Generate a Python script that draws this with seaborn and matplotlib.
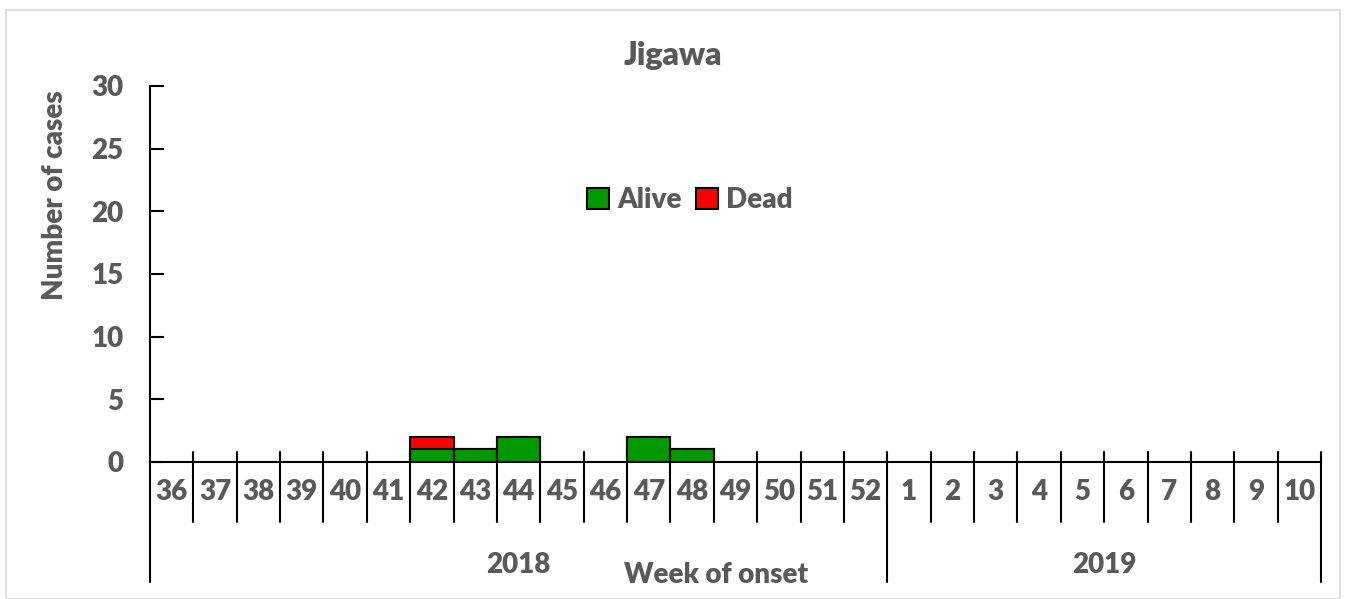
import numpy as np
import pandas as pd
import matplotlib
matplotlib.use('Agg')
import matplotlib.pyplot as plt
import seaborn as sns
from matplotlib.patches import Patch, Rectangle
from matplotlib.lines import Line2D

# data
weeks = ['36', '37', '38', '39', '40', '41', '42', '43', '44', '45', '46', '47', '48', '49', '50', '51', '52',
         '1', '2', '3', '4', '5', '6', '7', '8', '9', '10']
years = ['2018', '2019']
n_weeks_2018 = 17
alive = [0, 0, 0, 0, 0, 0, 1, 1, 2, 0, 0, 2, 1, 0, 0, 0, 0,
         0, 0, 0, 0, 0, 0, 0, 0, 0, 0]
dead = [0, 0, 0, 0, 0, 0, 1, 0, 0, 0, 0, 0, 0, 0, 0, 0, 0,
        0, 0, 0, 0, 0, 0, 0, 0, 0, 0]

df = pd.DataFrame({'week': weeks, 'alive': alive, 'dead': dead})
df['total'] = df['alive'] + df['dead']

sns.set_style('white')
plt.rcParams['font.family'] = ['Lato', 'DejaVu Sans']
plt.rcParams['font.weight'] = 'heavy'
grey = '#595959'
fw = 'heavy'
fs = 20

fig = plt.figure(figsize=(13.46, 5.99), dpi=100)
ax = fig.add_axes([150 / 1346, 1 - 462 / 599, (1321 - 150) / 1346, (462 - 86) / 599])

# stacked bars: total (red) behind, alive (green) on top
sns.barplot(data=df, x='week', y='total', order=weeks, color='#ff0000', width=1.0,
            edgecolor='black', linewidth=1.5, saturation=1, ax=ax)
sns.barplot(data=df, x='week', y='alive', order=weeks, color='#009900', width=1.0,
            edgecolor='black', linewidth=1.5, saturation=1, ax=ax)
# hide zero-height bars' outlines
for p in ax.patches:
    if p.get_height() == 0:
        p.set_visible(False)

ax.set_xlim(-0.5, len(weeks) - 0.5)
ax.set_ylim(0, 30)
ax.set_yticks(range(0, 31, 5))
ax.tick_params(axis='y', left=True, direction='in', length=10, width=1.5, color='black',
               pad=19, labelsize=fs, labelcolor=grey)
for lbl in ax.get_yticklabels():
    lbl.set_fontweight(fw)
ax.set_xticks([])
ax.set_xlabel('')
ax.set_ylabel('')
for s in ['top', 'right']:
    ax.spines[s].set_visible(False)
ax.spines['left'].set_linewidth(1.5)
ax.spines['bottom'].set_linewidth(1.5)
ax.spines['left'].set_color('black')
ax.spines['bottom'].set_color('black')

trans = ax.get_xaxis_transform()
# week separators
for i in range(len(weeks) + 1):
    xb = i - 0.5
    low = -0.319 if i in (0, n_weeks_2018, len(weeks)) else -0.16
    ax.add_line(Line2D([xb, xb], [0.027 if i > 0 else 0, low], transform=trans,
                       color='black', lw=1.5, clip_on=False))
# week labels
for i, w in enumerate(weeks):
    ax.text(i, -0.08, w, transform=trans, ha='center', va='center',
            fontsize=fs, color=grey, fontweight=fw)
# year labels
ax.text((n_weeks_2018 - 1) / 2, -0.274, years[0], transform=trans, ha='center', va='center',
        fontsize=fs, color=grey, fontweight=fw)
ax.text((n_weeks_2018 + len(weeks) - 1) / 2, -0.274, years[1], transform=trans, ha='center',
        va='center', fontsize=fs, color=grey, fontweight=fw)

fig.text(716 / 1346, 1 - 575 / 599, 'Week of onset', ha='center', va='center',
         fontsize=fs, color=grey, fontweight=fw)
fig.text(55 / 1346, 1 - 195 / 599, 'Number of cases', ha='center', va='center',
         rotation=90, fontsize=fs, color=grey, fontweight=fw)
fig.text(673 / 1346, 1 - 55 / 599, 'Jigawa', ha='center', va='center',
         fontsize=23, color=grey, fontweight=fw)

handles = [Patch(facecolor='#009900', edgecolor='black', linewidth=1.5, label='Alive'),
           Patch(facecolor='#ff0000', edgecolor='black', linewidth=1.5, label='Dead')]
leg = ax.legend(handles=handles, ncol=2, loc='center', bbox_to_anchor=(0.461, 0.697),
                frameon=False, fontsize=fs, handlelength=0.8, handleheight=0.8,
                handletextpad=0.3, columnspacing=0.5)
for t in leg.get_texts():
    t.set_color(grey)
    t.set_fontweight(fw)

fig.patches.append(Rectangle((6 / 1346, 0), 1334 / 1346, 1 - 10 / 599, transform=fig.transFigure,
                             fill=False, edgecolor='#d9d9d9', lw=1.2))

fig.savefig('out.png', dpi=100)
